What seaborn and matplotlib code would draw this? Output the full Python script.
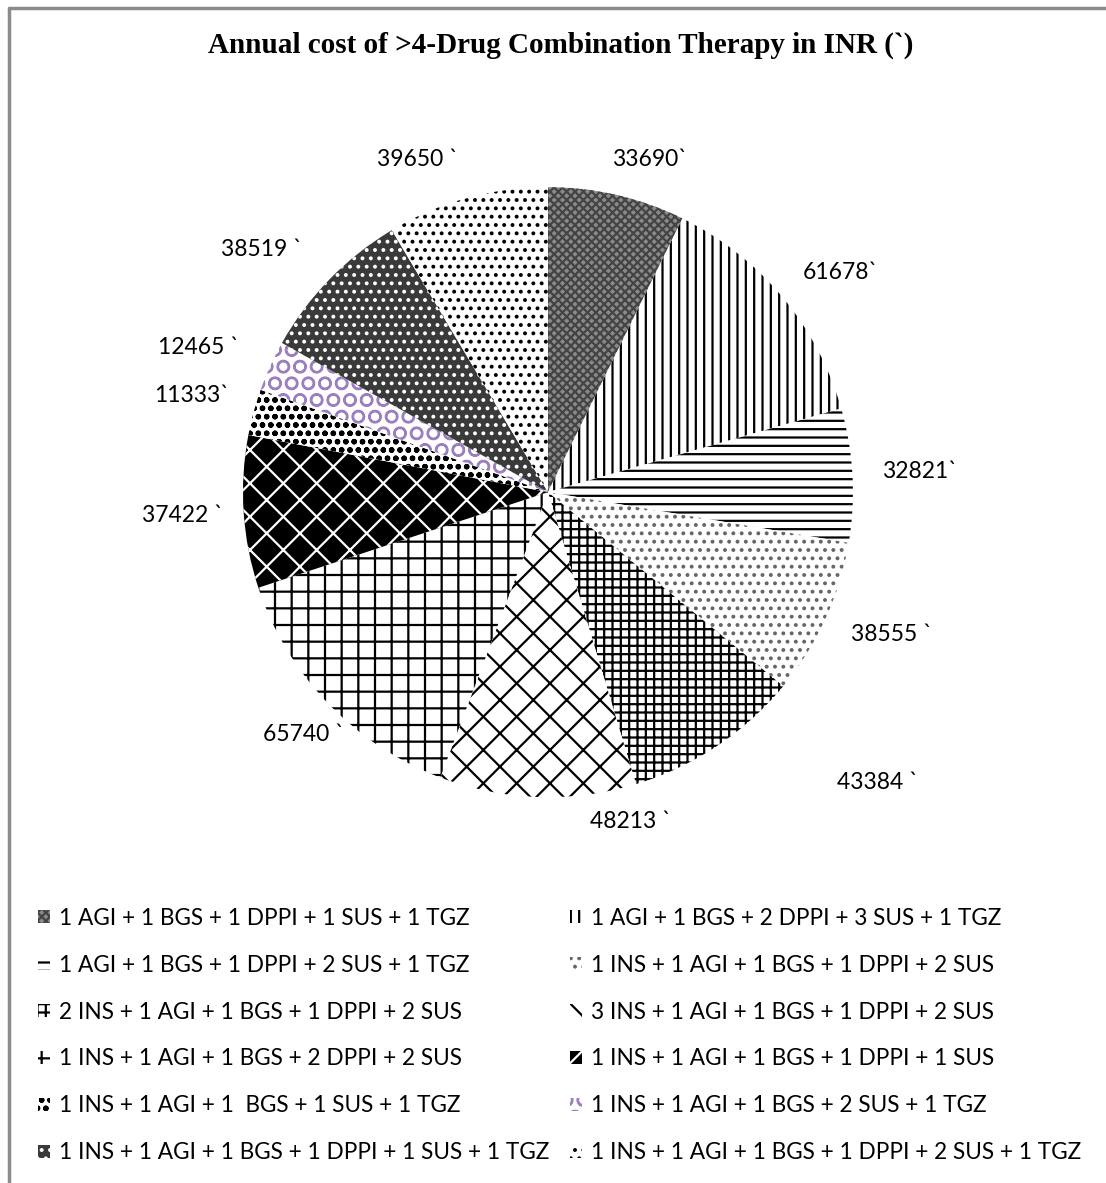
import matplotlib
matplotlib.use("Agg")
import numpy as np
import matplotlib.pyplot as plt
import seaborn as sns
from matplotlib.lines import Line2D

# annual cost per combination (INR), clockwise from 12 o'clock
combos = [
    "1 AGI + 1 BGS + 1 DPPI + 1 SUS + 1 TGZ",
    "1 AGI + 1 BGS + 2 DPPI + 3 SUS + 1 TGZ",
    "1 AGI + 1 BGS + 1 DPPI + 2 SUS + 1 TGZ",
    "1 INS + 1 AGI + 1 BGS + 1 DPPI + 2 SUS",
    "2 INS + 1 AGI + 1 BGS + 1 DPPI + 2 SUS",
    "3 INS + 1 AGI + 1 BGS + 1 DPPI + 2 SUS",
    "1 INS + 1 AGI + 1 BGS + 2 DPPI + 2 SUS",
    "1 INS + 1 AGI + 1 BGS + 1 DPPI + 1 SUS",
    "1 INS + 1 AGI + 1  BGS + 1 SUS + 1 TGZ",
    "1 INS + 1 AGI + 1 BGS + 2 SUS + 1 TGZ",
    "1 INS + 1 AGI + 1 BGS + 1 DPPI + 1 SUS + 1 TGZ",
    "1 INS + 1 AGI + 1 BGS + 1 DPPI + 2 SUS + 1 TGZ",
]
costs = [33690, 61678, 32821, 38555, 43384, 48213, 65740, 37422, 11333, 12465, 38519, 39650]
cost_labels = ["33690`", "61678`", "32821`", "38555 `", "43384 `", "48213 `",
               "65740 `", "37422 `", "11333`", "12465 `", "38519 `", "39650 `"]

# (face, hatch colour, hatch) per slice
styles = [
    ("#8a8a8a", "#444444", "xxxx"),
    ("white", "black", "||"),
    ("white", "black", "--"),
    ("white", "#666666", ".."),
    ("white", "black", "++"),
    ("white", "black", "x"),
    ("white", "black", "+"),
    ("black", "white", "x"),
    ("white", "black", "oo"),
    ("white", "#9b7fc0", "O"),
    ("#3a3a3a", "white", ".."),
    ("white", "black", ".."),
]
# label placement like the original (angle shift in deg, distance in radii)
label_shift = [4, 3, 0, -2, -15, -16, -1, 0, 0, -2, -4, -6]
label_dist = [1.14, 1.2, 1.22, 1.22, 1.44, 1.115, 1.13, 1.2, 1.21, 1.24, 1.23, 1.17]

sns.set_theme(style="white")
plt.rcParams["font.family"] = ["Lato", "DejaVu Sans"]
plt.rcParams["hatch.linewidth"] = 1.6
plt.rcParams["text.color"] = "black"

fig = plt.figure(figsize=(11.06, 11.83), dpi=100)
ax = fig.add_axes([0.2197, 0.3262, 0.5515, 0.5156])

wedges, texts = ax.pie(costs, labels=cost_labels, startangle=90, counterclock=False,
                       radius=1.0, textprops=dict(fontsize=16.5, color="black"))
for w, (fc, hc, h) in zip(wedges, styles):
    w.set_facecolor(fc)
    w.set_edgecolor(hc)
    w.set_linewidth(0)
    w.set_hatch(h)
for w, t, da, d in zip(wedges, texts, label_shift, label_dist):
    mid = np.deg2rad((w.theta1 + w.theta2) / 2 - da)
    t.set_position((d * np.cos(mid), d * np.sin(mid)))
    t.set_ha("center")
    t.set_va("center")
ax.set_xlim(-1, 1)
ax.set_ylim(-1, 1)
ax.set_aspect("equal")
ax.axis("off")

fig.text(0.507, 0.962, "Annual cost of >4-Drug Combination Therapy in INR (`)",
         ha="center", va="center", fontsize=21, fontweight="bold", color="black",
         family=["Liberation Serif", "DejaVu Serif"])

# matplotlib fills legend columns first; reorder so it reads row by row
order = [0, 2, 4, 6, 8, 10, 1, 3, 5, 7, 9, 11]
fig.legend([wedges[i] for i in order], [combos[i] for i in order], ncol=2,
           loc="upper left", bbox_to_anchor=(0.0163, 0.2500), frameon=False,
           fontsize=16.3, handlelength=0.5, handleheight=0.5, handletextpad=0.4,
           columnspacing=0.93, labelspacing=1.146, labelcolor="black")

# frame lines along top and left edge
fig.add_artist(Line2D([0.0085, 0.0085], [0.0, 0.9935], transform=fig.transFigure,
                      color="#8c8c8c", lw=2.5))
fig.add_artist(Line2D([0.0085, 1.0], [0.9935, 0.9935], transform=fig.transFigure,
                      color="#8c8c8c", lw=2.5))

fig.savefig("out.png", dpi=100, facecolor="white")
